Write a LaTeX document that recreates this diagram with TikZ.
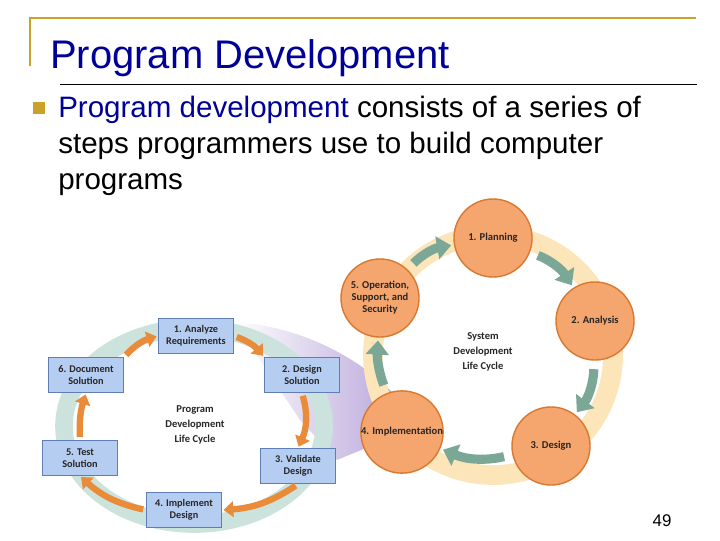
\documentclass[tikz,border=0pt]{standalone}
\usepackage{fontspec}
\setmainfont{Liberation Sans}
\newfontfamily\figfont{Carlito}
\usetikzlibrary{arrows.meta, positioning, shapes.geometric}

\definecolor{titleblue}{HTML}{000099}
\definecolor{gold}{HTML}{C9A227}
\definecolor{circfill}{HTML}{F5A66E}
\definecolor{circborder}{HTML}{D9782F}
\definecolor{ringsand}{HTML}{FCE5B9}
\definecolor{tealarrow}{HTML}{7BA797}
\definecolor{boxfill}{HTML}{B6CDF2}
\definecolor{boxborder}{HTML}{5F7FB4}
\definecolor{ringsea}{HTML}{CCE3DD}
\definecolor{orangearrow}{HTML}{E98B38}
\definecolor{wedgepurple}{HTML}{BCAADC}

\begin{document}
\begin{tikzpicture}[
    x=0.025cm, y=-0.025cm,
    every node/.style={align=center},
    phase/.style={circle, minimum size=1.95cm, inner sep=0pt, draw=circborder, line width=1pt, fill=circfill, font=\figfont\bfseries\fontsize{7.5}{8.6}\selectfont, text=black!85},
    stepbox/.style={rectangle, minimum width=1.875cm, minimum height=0.875cm, inner sep=1pt, draw=boxborder, line width=0.8pt, fill=boxfill, font=\figfont\bfseries\fontsize{7.3}{8.6}\selectfont, text=black!85},
    cyclabel/.style={font=\figfont\bfseries\fontsize{7.5}{10.6}\selectfont, text=black!85},
    sdlcarrow/.style={draw=tealarrow, line width=6.5pt, -{Triangle[length=10pt,width=16pt]}, shorten <=6pt, shorten >=2pt},
    pdlcarrow/.style={draw=orangearrow, line width=4.5pt, -{Triangle[length=7pt,width=11pt]}, shorten <=2pt, shorten >=1pt}
]
\useasboundingbox (0,0) rectangle (720,540);
\fill[white] (0,0) rectangle (720,540);

% Title and frame
\draw[gold, line width=1.6pt] (30,66) -- (30,18) -- (696,18);
\node (title) [anchor=base west, inner sep=0pt, text=titleblue, font=\fontsize{28.4}{34}\selectfont] at (50,68) {Program Development};
\draw[black, line width=0.7pt] (60,84) -- (697,84);

% Bullet text
\node (bullet) [rectangle, fill=gold, inner sep=0pt, minimum size=0.28cm] at (39,108) {};
\node (body) [anchor=base west, inner sep=0pt, align=left, font=\fontsize{21}{25.6}\selectfont] at (58,189)
  {{\color{titleblue}Program development} consists of a series of\\steps programmers use to build computer\\programs};

% Zoom wedge
\shade[left color=white, right color=wedgepurple] (233,322) .. controls (290,325) and (350,350) .. (392,392)
  -- (366,448) -- (337,460) -- (300,420) -- (250,345) -- cycle;

% Rings
\draw[ringsand, line width=14pt] (493,355) circle (3cm);
\draw[ringsea, line width=12.5pt] (194,426) ellipse (3.25cm and 2.45cm);

% System development life cycle
\node (plan) [phase] at (493,238) {1. Planning};
\node (anly) [phase] at (595,321) {2. Analysis};
\node (desg) [phase] at (551,446) {3. Design};
\node (impl) [phase] at (402,432) {4. Implementation};
\node (oper) [phase] at (380,298) {5. Operation,\\Support, and\\Security};
\node (sdlc) [cyclabel] at (483,352) {System\\Development\\Life Cycle};

% Program development life cycle
\node (anreq) [stepbox] at (196,336) {1. Analyze\\Requirements};
\node (dsol) [stepbox] at (302,375) {2. Design\\Solution};
\node (vdes) [stepbox] at (298,466) {3. Validate\\Design};
\node (idesg) [stepbox] at (184,510) {4. Implement\\Design};
\node (tsol) [stepbox] at (80,458) {5. Test\\Solution};
\node (docs) [stepbox] at (86,375) {6. Document\\Solution};
\node (pdlc) [cyclabel] at (195,425) {Program\\Development\\Life Cycle};

% Arrows
\draw [sdlcarrow] (oper) to[bend left=18] (plan);
\draw [sdlcarrow] (plan) to[bend left=18] (anly);
\draw [sdlcarrow] (anly) to[bend left=18] (desg);
\draw [sdlcarrow] (desg) to[bend left=18] (impl);
\draw [sdlcarrow] (impl) to[bend left=12] (oper);

\draw [pdlcarrow] (docs.north east) to[bend left=15] (anreq.west);
\draw [pdlcarrow] (anreq.east) to[bend left=15] (dsol.north west);
\draw [pdlcarrow] (dsol.south) to[bend left=20] (vdes.north);
\draw [pdlcarrow] (vdes.south) to[bend left=15] (idesg.east);
\draw [pdlcarrow] (idesg.west) to[bend left=15] (tsol.south);
\draw [pdlcarrow] (tsol.north) to[bend left=10] (docs.south);

% Page number
\node (pageno) [font=\fontsize{12}{14}\selectfont] at (662,521) {49};
\end{tikzpicture}
\end{document}
